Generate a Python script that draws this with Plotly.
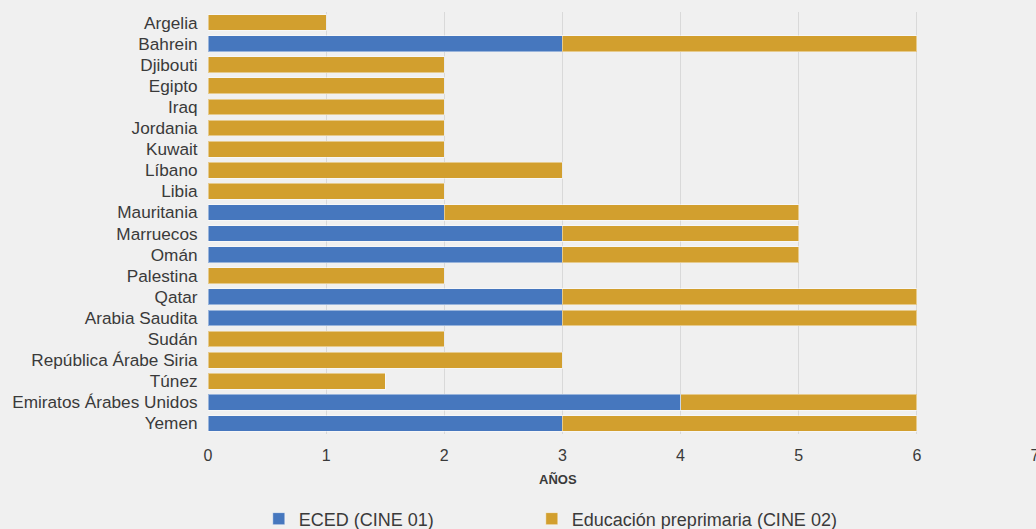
import plotly.graph_objects as go

countries = ["Argelia", "Bahrein", "Djibouti", "Egipto", "Iraq", "Jordania", "Kuwait",
             "Líbano", "Libia", "Mauritania", "Marruecos", "Omán", "Palestina", "Qatar",
             "Arabia Saudita", "Sudán", "República Árabe Siria", "Túnez",
             "Emiratos Árabes Unidos", "Yemen"]
eced = [None, 3, None, None, None, None, None, None, None, 2, 3, 3, None, 3, 3, None, None, None, 4, 3]
preprimaria = [1, 3, 2, 2, 2, 2, 2, 3, 2, 3, 2, 2, 2, 3, 3, 2, 3, 1.5, 2, 3]
x_ticks = [0, 1, 2, 3, 4, 5, 6, 7]
x_title = "AÑOS"

BLUE = "#4677be"
GOLD = "#d29f2e"
FONT = "Liberation Sans, Arial, sans-serif"
TXT = "#3a3a3a"

fig = go.Figure()
fig.add_trace(go.Bar(
    y=countries, x=eced, orientation="h", name="ECED (CINE 01)", legend="legend",
    marker=dict(color=BLUE, line=dict(color="rgba(255,255,255,0.45)", width=1)),
))
fig.add_trace(go.Bar(
    y=countries, x=preprimaria, orientation="h", name="Educación preprimaria (CINE 02)",
    legend="legend2",
    marker=dict(color=GOLD, line=dict(color="rgba(255,255,255,0.45)", width=1)),
))

fig.add_annotation(text="<b>" + x_title + "</b>", xref="paper", yref="paper",
                   x=(557.5 - 208) / 827, y=-(480 - 434) / 422, xanchor="center", yanchor="middle",
                   showarrow=False, font=dict(size=13, color=TXT))

legend_common = dict(orientation="h", xref="container", yref="container",
                     xanchor="left", y=0.019, yanchor="middle",
                     font=dict(size=18, color=TXT), itemwidth=30,
                     bgcolor="rgba(0,0,0,0)")

fig.update_layout(
    width=1036, height=529,
    barmode="stack", bargap=0.25,
    paper_bgcolor="#f0f0f0", plot_bgcolor="#f0f0f0",
    margin=dict(l=208, r=1, t=12, b=95, autoexpand=False),
    font=dict(family=FONT, color=TXT, size=16),
    showlegend=True,
    legend=dict(x=0.2498, **legend_common),
    legend2=dict(x=0.2498 + 273 / 1036, **legend_common),
    xaxis=dict(range=[0, 7], tickvals=x_ticks, showgrid=True, gridcolor="#d9d9d9",
               gridwidth=1, zeroline=False, showline=False,
               ticks="outside", ticklen=7, tickcolor="rgba(0,0,0,0)",
               ticklabeloverflow="allow",
               tickfont=dict(size=16, color=TXT)),
    yaxis=dict(autorange="reversed", showgrid=False, zeroline=False,
               tickfont=dict(size=17.2, color=TXT), ticks="outside", ticklen=6,
               tickcolor="rgba(0,0,0,0)"),
)

fig.write_html("out.html", config={"displayModeBar": False},
               post_script="document.body.style.margin='0';document.body.style.background='#f0f0f0';")
